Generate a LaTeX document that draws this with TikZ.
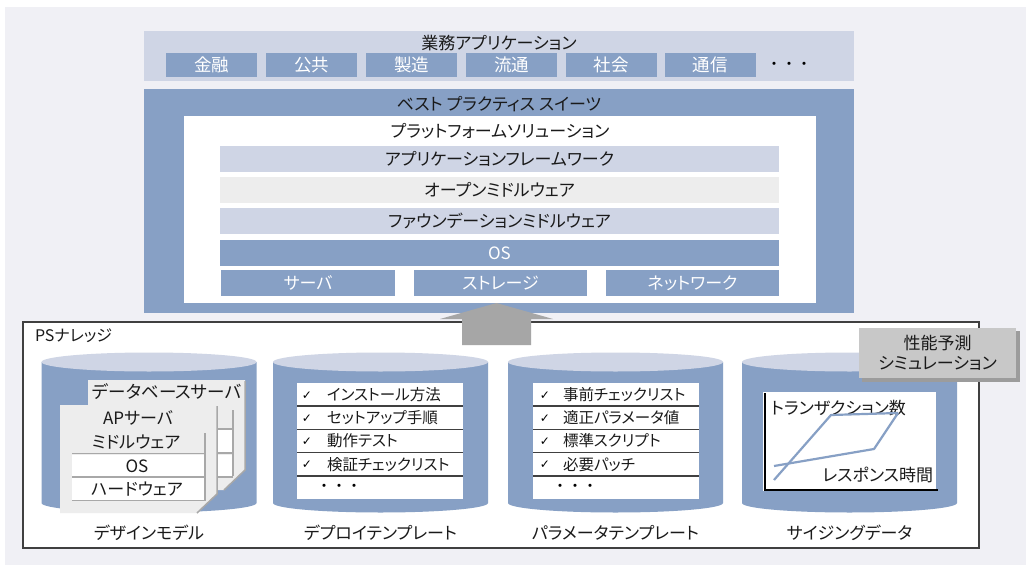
\documentclass[tikz,border=0pt]{standalone}
\usepackage{fontspec}
\setmainfont{Noto Sans CJK JP}[RawFeature=+palt]
\newfontfamily\cjkmono{Noto Sans CJK JP}
\newfontfamily\symfont{DejaVu Sans}
\definecolor{bgc}{HTML}{F0F0F5}
\definecolor{lb}{HTML}{CFD5E5}
\definecolor{mb}{HTML}{87A0C5}
\definecolor{lg}{HTML}{EDEDED}
\definecolor{ag}{HTML}{A6A6A6}
\definecolor{sg}{HTML}{C8C8C8}
\definecolor{shg}{HTML}{9C9C9C}
\definecolor{txt}{HTML}{1A1A1A}
\definecolor{edgec}{HTML}{A8A8A8}
\definecolor{psb}{HTML}{404040}
\begin{document}
\begin{tikzpicture}[x=1pt,y=-1pt,
  every node/.style={inner sep=0pt, outer sep=0pt, text=txt, font=\fontsize{17}{18}\selectfont},
  tile/.style={fill=mb, text=white, minimum width=91pt, minimum height=24pt, font=\fontsize{17.5}{18}\selectfont},
  bar/.style={minimum width=559pt, minimum height=26pt},
  hw/.style={fill=mb, text=white, minimum width=173pt, minimum height=26pt},
  item/.style={anchor=west, font=\fontsize{15.5}{16}\selectfont},
  chk/.style={font=\symfont\fontsize{12}{12}\selectfont, text=black},
  dots/.style={font=\cjkmono\fontsize{15}{16}\selectfont, text=black},
  rowline/.style={draw=psb, line width=1.6pt},
  docedge/.style={draw=edgec, line width=1.5pt},
  cyllabel/.style={font=\fontsize{17}{18}\selectfont},
  chartline/.style={draw=mb, line width=2.2pt, line join=round}
]
\useasboundingbox (0,0) rectangle (1026,565);
\fill[bgc] (5,7) rectangle (1026,565);

% business applications
\node[fill=lb, minimum width=710pt, minimum height=50pt] (biz) at (499,56) {};
\node (biztitle) at (499,43) {業務アプリケーション};
\foreach \x/\t [count=\i] in {211.5/金融,311.5/公共,411.5/製造,511.5/流通,611/社会,710/通信}
  \node[tile] (biz\i) at (\x,65) {\t};
\node[dots] (bizdots) at (789,66) {・・・};

% best practice suites
\node[fill=mb, minimum width=710pt, minimum height=224pt] (best) at (499,201) {};
\node (besttitle) at (499,104) {ベスト プラクティス スイーツ};
\node[fill=white, minimum width=632pt, minimum height=187pt] (plat) at (500,209.5) {};
\node (plattitle) at (500,131) {プラットフォームソリューション};
\node[bar, fill=lb] (l1) at (499.5,159) {アプリケーションフレームワーク};
\node[bar, fill=lg] (l2) at (499.5,190) {オープンミドルウェア};
\node[bar, fill=lb] (l3) at (499.5,221) {ファウンデーションミドルウェア};
\node[bar, fill=mb, text=white] (l4) at (499.5,253) {OS};
\node[hw, minimum width=174pt] (srv) at (308,283) {サーバ};
\node[hw] (stg) at (500.5,283) {ストレージ};
\node[hw] (net) at (692.5,283) {ネットワーク};

% PS knowledge
\node[draw=psb, line width=1.5pt, fill=white, minimum width=956pt, minimum height=226pt] (ps) at (501,435) {};
\node[anchor=west, font=\fontsize{16}{16}\selectfont] (pslabel) at (35,336) {PSナレッジ};

% arrow
\coordinate (arrtip) at (496.5,303);
\fill[ag] (462,345) -- (462,319) -- (440,319) -- (arrtip) -- (553,319) -- (531,319) -- (531,345) -- cycle;

% cylinders
\foreach \cx in {149,380.5,615.5,849.5} {
  \fill[mb] ({\cx-107.5},362) -- ({\cx-107.5},503) arc[start angle=180,end angle=360,x radius=107.5pt,y radius=9.5pt] -- ({\cx+107.5},362) -- cycle;
  \fill[lb] (\cx,362) ellipse[x radius=107.5pt, y radius=9.5pt];
}
\node[cyllabel] (c1) at (149,533) {デザインモデル};
\node[cyllabel] (c2) at (380.5,533) {デプロイテンプレート};
\node[cyllabel] (c3) at (615.5,533) {パラメータテンプレート};
\node[cyllabel] (c4) at (849.5,533) {サイジングデータ};

% design model documents
\fill[lg] (88,380) -- (245,380) -- (245,470) -- (224,490) -- (88,490) -- cycle;
\draw[docedge] (245,381) -- (245,470) -- (224,490);
\node[font=\fontsize{17.5}{18}\selectfont] (dbs) at (167,392) {データベースサーバ};
\fill[white] (150,430) rectangle (233,452);
\fill[white] (150,455) rectangle (233,476);
\draw[docedge] (233,410) -- (233,476);
\draw[docedge] (150,429) -- (233,429);
\draw[docedge] (150,453) -- (233,453);
\draw[docedge] (150,477) -- (233,477);

\fill[lg] (60,405) -- (217,405) -- (217,494) -- (197,513) -- (60,513) -- cycle;
\draw[docedge] (217,406) -- (217,494) -- (197,513);
\node (aps) at (138,418) {APサーバ};
\fill[white] (72,455) rectangle (205,476);
\fill[white] (72,478) rectangle (205,500);
\draw[docedge] (205,433) -- (205,501);
\draw[docedge] (72,453.5) -- (205,453.5);
\draw[docedge] (72,477) -- (205,477);
\draw[docedge] (72,500.5) -- (205,500.5);
\node (mw) at (136,442) {ミドルウェア};
\node (os) at (137,466) {OS};
\node (hwr) at (137,489) {ハードウェア};

% deploy template checklist
\node[fill=white, minimum width=166pt, minimum height=116pt, anchor=north west] (dep) at (297,383) {};
\foreach \i in {1,2,3,4} \draw[rowline] (297,{383+23.2*\i}) -- (463,{383+23.2*\i});
\foreach \t [count=\i] in {インストール方法,セットアップ手順,動作テスト,検証チェックリスト} {
  \node[chk] (dck\i) at (307,{383+23.2*(\i-0.5)+1}) {✓};
  \node[item] (dtx\i) at (327,{383+23.2*(\i-0.5)}) {\t};
}
\node[dots] (ddots) at (339,488) {・・・};

% parameter template checklist
\node[fill=white, minimum width=166pt, minimum height=116pt, anchor=north west] (par) at (533,383) {};
\foreach \i in {1,2,3,4} \draw[rowline] (533,{383+23.2*\i}) -- (699,{383+23.2*\i});
\foreach \t [count=\i] in {事前チェックリスト,適正パラメータ値,標準スクリプト,必要パッチ} {
  \node[chk] (pck\i) at (545,{383+23.2*(\i-0.5)+1}) {✓};
  \node[item] (ptx\i) at (563,{383+23.2*(\i-0.5)}) {\t};
}
\node[dots] (pdots) at (575,488) {・・・};

% sizing chart
\node[fill=white, minimum width=173pt, minimum height=99pt, anchor=north west] (chart) at (763,392) {};
\draw[black, line width=2pt] (765,393) -- (765,490) -- (938,490);
\node[anchor=west, font=\fontsize{17}{18}\selectfont] (tps) at (771,408) {トランザクション数};
\node[anchor=east, font=\fontsize{17}{18}\selectfont] (resp) at (933,475) {レスポンス時間};
\draw[chartline] (774,480) -- (831,415) -- (898,413);
\draw[chartline] (774,466) -- (874,449) -- (898,413);

% simulation box
\fill[shg] (862,331) rectangle (1020,382);
\node[fill=sg, minimum width=157pt, minimum height=50pt, align=center, font=\fontsize{17}{20}\selectfont] (sim) at (937.5,353) {性能予測\\シミュレーション};
\end{tikzpicture}
\end{document}
